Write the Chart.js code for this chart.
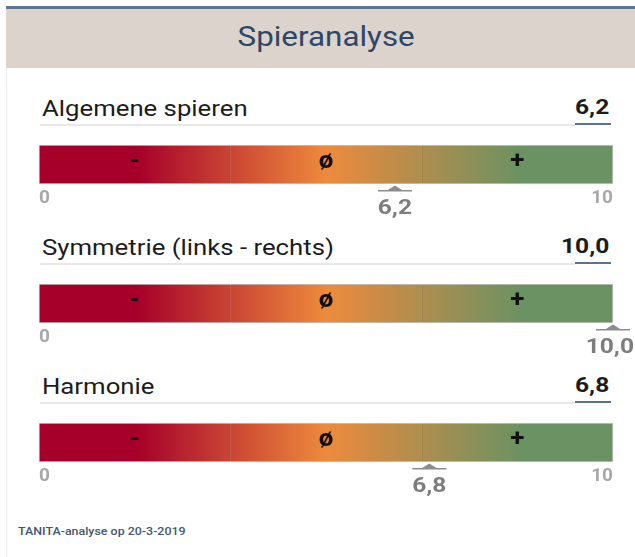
<!DOCTYPE html>
<html><head><meta charset="utf-8">
<script src="https://cdn.jsdelivr.net/npm/chart.js@4.4.1/dist/chart.umd.min.js"></script>
<style>
html,body{margin:0;padding:0;background:#fff;}
#page{position:relative;width:635px;height:557px;overflow:hidden;font-family:Roboto,"Noto Sans",sans-serif;}
.abs{position:absolute;white-space:nowrap;}
.st{display:inline-block;}
canvas{display:block;}
</style></head><body><div id="page">
<div class="abs" style="left:6px;top:6px;width:629px;height:3px;background:#5d7593"></div>
<div class="abs" style="left:6px;top:9px;width:629px;height:59px;background:#dcd3cc"></div>
<div class="abs" style="left:6px;top:68px;width:1px;height:489px;background:#ececec"></div>
<div class="abs" style="left:6px;width:640px;top:23px;text-align:center;font-size:28px;line-height:28px;color:#2d4766;"><span id="title" class="st" style="transform:scaleX(1.12);transform-origin:center;"></span></div>
<div class="abs" style="left:18px;top:526px;font-size:11px;line-height:11px;font-weight:500;color:#46566e;"><span id="footer" class="st" style="transform:scaleX(1.13);transform-origin:left;"></span></div>
</div>
<script>
// ---- data ----
const chartTitle = 'Spieranalyse';
const footerText = 'TANITA-analyse op 20-3-2019';
const categories = ['Algemene spieren', 'Symmetrie (links - rechts)', 'Harmonie'];
const scores = [6.2, 10.0, 6.8];
const scoreLabels = ['6,2', '10,0', '6,8'];
const zoneEdges = [0, 3.33, 6.67, 10];
const zoneSymbols = ['-', '\u00f8', '+'];
const tickValues = [0, 10];
const tickLabels = ['0', '10'];

// ---- styles ----
const gradientStops = [[0,'#a6002a'],[0.17,'#a6002a'],[0.5,'#ee8a3c'],[0.84,'#6b9262'],[1,'#6b9262']];
const sectionStep = 139;
const stretch = 1.17;

document.getElementById('title').textContent = chartTitle;
document.getElementById('footer').textContent = footerText;
const page = document.getElementById('page');

function zoneGradient(c){
  const chart = c.chart; const a = chart.chartArea;
  if(!a) return gradientStops[0][1];
  const g = chart.ctx.createLinearGradient(a.left,0,a.right,0);
  gradientStops.forEach(s=>g.addColorStop(s[0],s[1]));
  return g;
}
function fillStretched(ctx, text, x, y, k){
  ctx.save(); ctx.translate(x,y); ctx.scale(k,1); ctx.fillText(text,0,0); ctx.restore();
}

const markerPlugin = {
  id:'marker',
  afterDatasetsDraw(chart, args, opts){
    const ctx = chart.ctx; const i = opts.index;
    const a = chart.chartArea;
    ctx.save();
    // dividers between zones
    ctx.fillStyle = 'rgba(90,70,60,0.28)';
    for(let k=1;k<zoneSymbols.length;k++){
      const el = chart.getDatasetMeta(k).data[0];
      ctx.fillRect(Math.round(el.base)-0.5, a.top+1, 1, a.bottom-a.top-2);
    }
    // zone symbols at segment centres
    ctx.fillStyle = '#111'; ctx.font = 'bold 24px Roboto'; ctx.textAlign='center'; ctx.textBaseline='middle';
    zoneSymbols.forEach((s,k)=>{
      const el = chart.getDatasetMeta(k).data[0];
      fillStretched(ctx, s, (el.x+el.base)/2, el.y-3, 1.08);
    });
    // marker
    const x = chart.scales.x.getPixelForValue(scores[i]);
    const b = a.bottom;
    ctx.fillStyle = '#8c8c8c';
    ctx.beginPath(); ctx.moveTo(x,b+1.5); ctx.lineTo(x-8,b+6.5); ctx.lineTo(x+8,b+6.5); ctx.closePath(); ctx.fill();
    ctx.fillRect(x-17,b+6,34,1.5);
    ctx.font='bold 21px Roboto'; ctx.fillStyle='#7d7d7d';
    const w = ctx.measureText(scoreLabels[i]).width*stretch;
    const cx = Math.min(x, chart.width - w/2 - 1);
    fillStretched(ctx, scoreLabels[i], cx, b+25, stretch);
    ctx.restore();
  }
};

function side(ds){
  const last = zoneSymbols.length-1;
  return {top:1,bottom:1,left:ds===0?1:0,right:ds===last?1:0};
}

categories.forEach((cat,i)=>{
  const off = i*sectionStep;
  const lab = document.createElement('div'); lab.className='abs';
  lab.style.cssText = `left:42px;top:${98+off}px;font-size:22px;line-height:22px;color:#1c1c1c;`;
  const ls = document.createElement('span'); ls.className='st';
  ls.style.cssText = `transform:scaleX(${stretch});transform-origin:left;`;
  ls.textContent = cat; lab.appendChild(ls); page.appendChild(lab);
  const gl = document.createElement('div'); gl.className='abs';
  gl.style.cssText = `left:40px;top:${124+off}px;width:535px;height:2px;background:#e8e8e8;`;
  page.appendChild(gl);
  const val = document.createElement('div'); val.className='abs';
  val.style.cssText = `right:26px;top:${97+off}px;font-size:21px;line-height:21px;font-weight:bold;color:#1c1c1c;`;
  const vs = document.createElement('span'); vs.className='st';
  vs.style.cssText = `transform:scaleX(${stretch});transform-origin:right;`;
  vs.textContent = scoreLabels[i]; val.appendChild(vs); page.appendChild(val);
  const ul = document.createElement('div'); ul.className='abs';
  ul.style.cssText = `left:575px;top:${123+off}px;width:36px;height:2px;background:#5b7290;`;
  page.appendChild(ul);
  const wrap = document.createElement('div'); wrap.className='abs';
  wrap.style.cssText = `left:0;top:${143+off}px;width:635px;height:78px;`;
  const cv = document.createElement('canvas'); cv.width=635; cv.height=78;
  wrap.appendChild(cv); page.appendChild(wrap);
  new Chart(cv, {
    type:'bar',
    data:{
      labels:[cat],
      datasets: zoneSymbols.map((s,k)=>({
        label:s, data:[[zoneEdges[k], zoneEdges[k+1]]],
        backgroundColor: zoneGradient, borderColor:'#c6c6c6', borderWidth:side(k),
        borderSkipped:false, grouped:false, barPercentage:1, categoryPercentage:1
      }))
    },
    options:{
      indexAxis:'y', responsive:false, animation:false, devicePixelRatio:1,
      layout:{padding:{left:39,right:22,top:2,bottom:11}},
      plugins:{legend:{display:false}, tooltip:{enabled:false}, marker:{index:i}},
      scales:{
        y:{display:false},
        x:{min:0,max:10, grid:{display:false,drawTicks:false}, border:{display:false},
          afterBuildTicks:(s)=>{ s.ticks = tickValues.map(v=>({value:v})); },
          afterFit:(s)=>{ s.height = 26; },
          ticks:{align:'inner', padding:3, color:'#a8a8a8', autoSkip:false, maxRotation:0,
            font:{family:'Roboto', weight:'bold', size:19},
            callback:(v,idx)=> Math.abs(tickValues[idx]-scores[i]) < 1 ? '' : tickLabels[idx]}
        }
      }
    },
    plugins:[markerPlugin]
  });
});
</script>
</body></html>
